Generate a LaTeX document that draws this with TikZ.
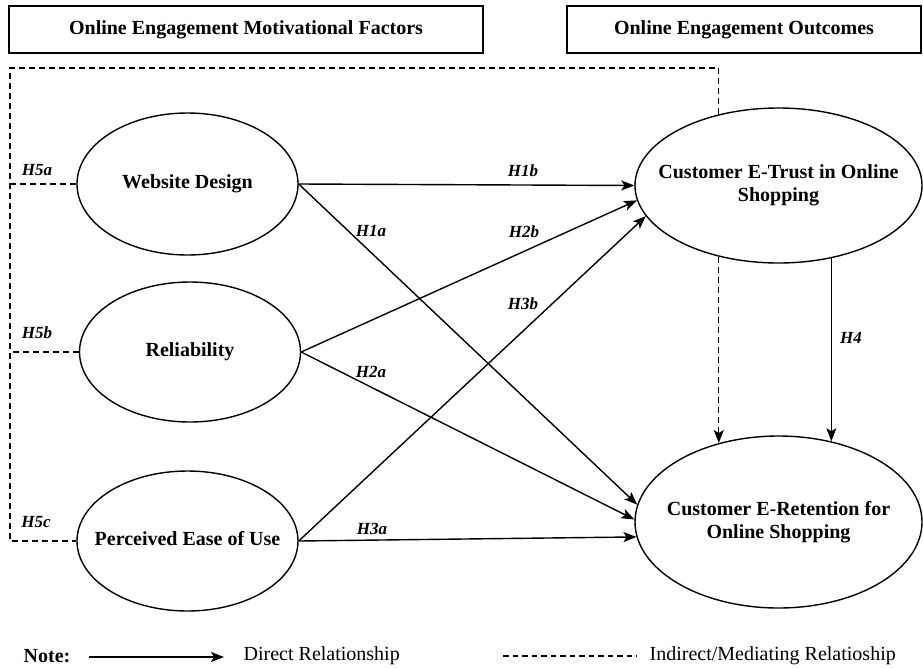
\documentclass[tikz,border=0pt]{standalone}
\usepackage{fontspec}
\setmainfont{Liberation Serif}
\usetikzlibrary{shapes.geometric,arrows.meta}

% centred text block that does not widen the ellipse around it
\newcommand{\ctext}[1]{\makebox[0pt]{\begin{tabular}{@{}c@{}}#1\end{tabular}}}

\begin{document}
\begin{tikzpicture}[x=1pt,y=-1pt,
  line width=1.4pt,
  construct/.style={ellipse, draw, inner sep=0pt,
    font=\fontsize{20}{23}\selectfont\bfseries},
  titlebox/.style={draw, minimum height=47pt, inner sep=0pt,
    font=\fontsize{20}{24}\selectfont\bfseries},
  hyp/.style={font=\fontsize{17}{20}\selectfont\bfseries\itshape, inner sep=0pt},
  direct/.style={-{Stealth[length=13pt,width=10pt,inset=3pt]}},
  indirect/.style={dash pattern=on 6pt off 4pt},
  legendtext/.style={font=\fontsize{20}{24}\selectfont, inner sep=0pt, anchor=west}]

\useasboundingbox (0,0) rectangle (923,667);

% section headings
\node[titlebox, minimum width=474pt] (tfac) at (246,29.5) {Online Engagement Motivational Factors};
\node[titlebox, minimum width=354pt] (tout) at (744,29.5) {Online Engagement Outcomes};

% constructs
\node[construct, minimum width=221pt, minimum height=142pt] (wd) at (187.5,184) {\ctext{Website Design}};
\node[construct, minimum width=221pt, minimum height=140pt] (rel) at (190,352) {\ctext{Reliability}};
\node[construct, minimum width=221pt, minimum height=140pt] (peou) at (187.5,541) {\ctext{Perceived Ease of Use}};
\node[construct, minimum width=287pt, minimum height=155pt] (trust) at (778.5,185.5) {\ctext{Customer E-Trust in Online\\Shopping}};
\node[construct, minimum width=287pt, minimum height=172pt] (ret) at (778.5,522) {\ctext{Customer E-Retention for\\Online Shopping}};

% direct paths
\draw[direct] (wd.east) -- (trust.west);
\draw[direct] (wd.east) -- (ret.173.2);
\draw[direct] (rel.east) -- (trust.186.2);
\draw[direct] (rel.east) -- (ret.179);
\draw[direct] (peou.east) -- (trust.193.4);
\draw[direct] (peou.east) -- (ret.186.8);
\draw[direct] (trust.306) -- (trust.306 |- ret.57);

% mediating paths
\coordinate (ftl) at (10,68);
\draw[indirect] (trust.130) |- (ftl) |- (peou.west);
\draw[indirect] (wd.west) -- (wd.west -| ftl);
\draw[indirect] (rel.west) -- (rel.west -| ftl);
\draw[indirect, direct] (trust.230) -- (trust.230 |- ret.127);

% hypothesis labels
\node[hyp] (h5a) at (37,170) {H5a};
\node[hyp] (h5b) at (37,333) {H5b};
\node[hyp] (h5c) at (36,522) {H5c};
\node[hyp] (h1b) at (523,171) {H1b};
\node[hyp] (h1a) at (371,231) {H1a};
\node[hyp] (h2b) at (524,232) {H2b};
\node[hyp] (h3b) at (523,304) {H3b};
\node[hyp] (h2a) at (371,372) {H2a};
\node[hyp] (h3a) at (372,529) {H3a};
\node[hyp] (h4) at (851,338) {H4};

% legend
\node[legendtext, font=\fontsize{20}{24}\selectfont\bfseries] (note) at (23,656) {Note:};
\coordinate (da) at (89,657);
\coordinate (db) at (224,657);
\draw[direct] (da) -- (db);
\node[legendtext] (dtxt) at (243,656) {Direct Relationship};
\coordinate (ia) at (503,656);
\coordinate (ib) at (637,656);
\draw[dash pattern=on 5.5pt off 4pt] (ia) -- (ib);
\node[legendtext] (itxt) at (649,656) {Indirect/Mediating Relatioship};
\end{tikzpicture}
\end{document}
